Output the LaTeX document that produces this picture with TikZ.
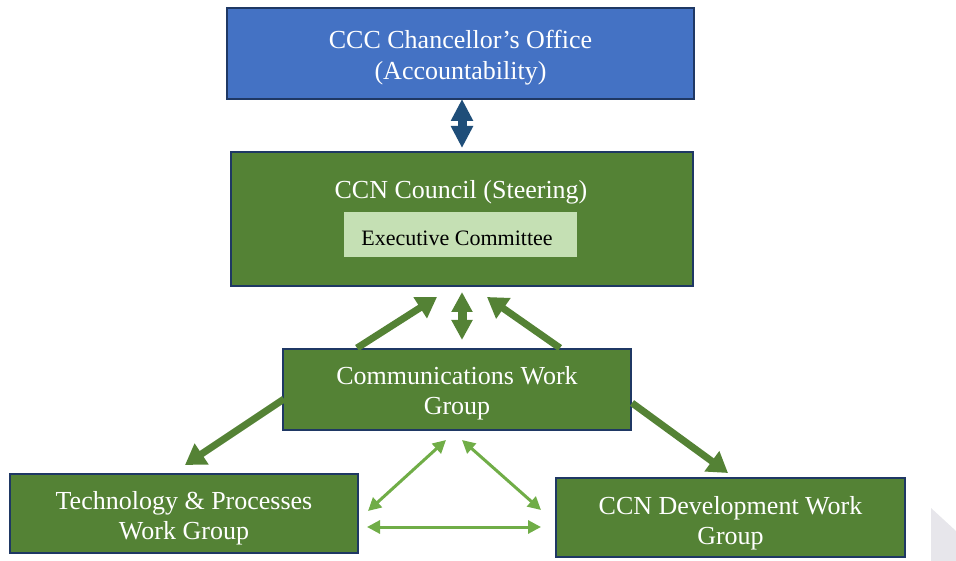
\documentclass[tikz,border=0pt]{standalone}
\usepackage{fontspec}
\setmainfont{Liberation Serif}
\usetikzlibrary{arrows.meta}
\definecolor{boxblue}{HTML}{4472C4}
\definecolor{boxgreen}{HTML}{548235}
\definecolor{navy}{HTML}{1F3864}
\definecolor{darkblue}{HTML}{1F4E79}
\definecolor{lightfill}{HTML}{C5E0B4}
\definecolor{litegreen}{HTML}{70AD47}
\definecolor{greyshape}{HTML}{E7E6EB}
\tikzset{
  boxbase/.style={draw=navy, line width=2pt, text=white, align=center, inner sep=0pt,
    font=\fontsize{26}{31}\selectfont},
  boxtext/.style={text=white, align=center, inner sep=0pt, font=\fontsize{26}{30}\selectfont},
  bigarrow/.style={draw=boxgreen, line width=7pt, -{Triangle[width=24pt,length=20pt]}},
  dblgreen/.style={draw=boxgreen, line width=9pt, {Triangle[width=20pt,length=20pt]}-{Triangle[width=20pt,length=20pt]}},
  dblblue/.style={draw=darkblue, line width=9pt, {Triangle[width=21pt,length=22pt]}-{Triangle[width=21pt,length=22pt]}},
  thinarrow/.style={draw=litegreen, line width=3pt, {Triangle[width=13pt,length=13pt]}-{Triangle[width=13pt,length=13pt]}},
}
\begin{document}
\begin{tikzpicture}[x=1pt,y=-1pt]
\useasboundingbox (0,0) rectangle (956,561);
% boxes
\node[boxbase, fill=boxblue, minimum width=467pt, minimum height=91pt] (cco) at (460.5,53.5) {};
\node[boxtext, font=\fontsize{26}{31}\selectfont] (ccotxt) at (460.5,57.5)
  {CCC Chancellor’s Office\\(Accountability)};
\node[boxbase, fill=boxgreen, minimum width=462pt, minimum height=134pt] (council) at (461.5,219.5) {};
\node[boxtext] (counciltxt) at (461,192) {CCN Council (Steering)};
\node[fill=lightfill, minimum width=233pt, minimum height=45pt, inner sep=0pt] (exec) at (460.5,234.5) {};
\node[inner sep=0pt, font=\fontsize{22}{26}\selectfont] (exectxt) at (457,238) {Executive Committee};
\node[boxbase, fill=boxgreen, minimum width=348pt, minimum height=81pt] (comms) at (457,389.5) {};
\node[boxtext] (commstxt) at (457,393.5) {Communications Work\\Group};
\node[boxbase, fill=boxgreen, minimum width=348pt, minimum height=79pt] (tech) at (184,513.5) {};
\node[boxtext] (techtxt) at (184,518.5) {Technology \& Processes\\Work Group};
\node[boxbase, fill=boxgreen, minimum width=349pt, minimum height=79pt] (dev) at (730.5,517.5) {};
\node[boxtext] (devtxt) at (730.5,523) {CCN Development Work\\Group};
% grey decorative shape
\fill[greyshape] (931,508) -- (956,531) -- (956,561) -- (931,561) -- cycle;
% connector endpoints
\coordinate (b1) at (462,99);
\coordinate (b2) at (462,148);
\coordinate (g1) at (462,292);
\coordinate (g2) at (462,340);
\coordinate (l1) at (357,348);
\coordinate (l2) at (437,297);
\coordinate (r1) at (560,348);
\coordinate (r2) at (487,297);
\coordinate (dl1) at (284,399);
\coordinate (dl2) at (185,465);
\coordinate (dr1) at (632,403);
\coordinate (dr2) at (728,473);
\coordinate (t1) at (446,440);
\coordinate (t2) at (368,511);
\coordinate (t3) at (462,440);
\coordinate (t4) at (541,510);
\coordinate (t5) at (367,527);
\coordinate (t6) at (541,527);
% arrows
\draw[dblblue] (b1) -- (b2);
\draw[dblgreen] (g1) -- (g2);
\draw[bigarrow] (l1) -- (l2);
\draw[bigarrow] (r1) -- (r2);
\draw[bigarrow] (dl1) -- (dl2);
\draw[bigarrow] (dr1) -- (dr2);
\draw[thinarrow] (t1) -- (t2);
\draw[thinarrow] (t3) -- (t4);
\draw[thinarrow] (t5) -- (t6);
\end{tikzpicture}
\end{document}
